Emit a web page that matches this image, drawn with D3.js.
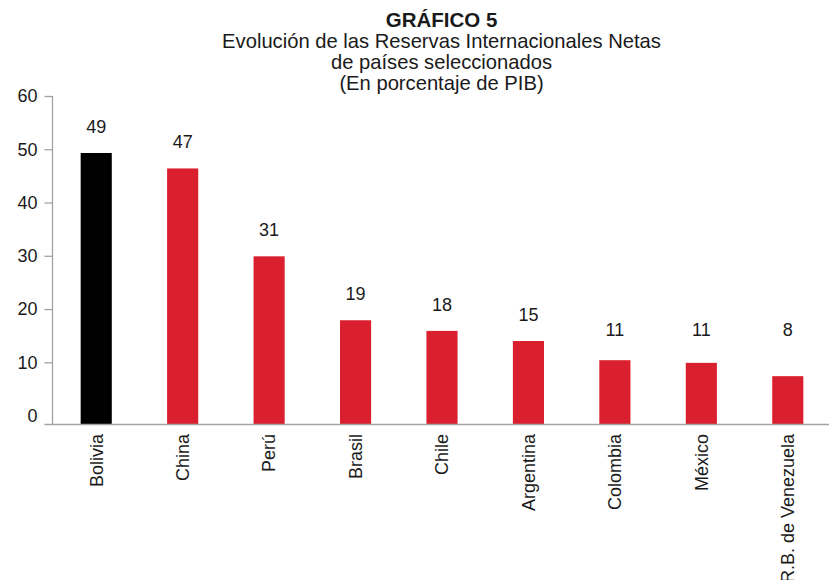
<!DOCTYPE html>
<html>

<head>
  <title>Grafico 5</title>
  <meta charset="utf-8">
  <script src="https://d3js.org/d3.v7.min.js"></script>
  <style>
    body { margin: 0; background: #fff; }
    text { font-family: "Liberation Sans", Arial, Helvetica, sans-serif; fill: #1a1a1a; }
  </style>
</head>

<body>
  <div id="vis"></div>

<script>
  // data
  var paises = ['Bolivia', 'China', 'Perú', 'Brasil', 'Chile', 'Argentina', 'Colombia', 'México', 'R.B. de Venezuela'];
  var valores = [49.3, 46.4, 29.9, 17.9, 15.9, 14.0, 10.4, 9.9, 7.4];
  var etiquetas = ['49', '47', '31', '19', '18', '15', '11', '11', '8'];
  var yTicks = [0, 10, 20, 30, 40, 50, 60];
  var titulo = 'GRÁFICO 5';
  var subtitulo = ['Evolución de las Reservas Internacionales Netas', 'de países seleccionados', '(En porcentaje de PIB)'];

  var width = 829, height = 580;
  var axisX = 52.5, baseY = 424, topY = 96;

  var svg = d3.select('#vis')
    .append('svg')
    .attr('width', width)
    .attr('height', height)

  var x = d3.scaleBand()
    .domain(paises)
    .range([53, 831])
    .paddingInner(0.64)
    .paddingOuter(0.32);

  // axis runs a little below zero, bars sit on the bottom line
  var y = d3.scaleLinear()
    .domain([-1.58, 60])
    .range([baseY, topY]);

  // title
  svg.append('text')
    .attr('x', 441.5)
    .attr('y', 27)
    .attr('text-anchor', 'middle')
    .style('font-size', '20.5px')
    .style('font-weight', 'bold')
    .text(titulo);

  svg.selectAll('.sub')
    .data(subtitulo)
    .enter()
    .append('text')
    .attr('class', 'sub')
    .attr('x', 441.5)
    .attr('y', (d, i) => 48 + i * 21)
    .attr('text-anchor', 'middle')
    .style('font-size', '20.2px')
    .text(d => d);

  // y axis
  var yAxis = svg.append('g')
    .attr('transform', 'translate(' + axisX + ',0)')
    .call(d3.axisLeft(y).tickValues(yTicks).tickSize(8).tickPadding(7));

  yAxis.select('.domain').attr('stroke', '#a3a3a3').attr('stroke-width', 1.3)
    .attr('d', 'M0,' + topY + 'V' + baseY);
  yAxis.selectAll('.tick line')
    .attr('stroke', '#a3a3a3').attr('stroke-width', 1.3)
    .attr('display', d => d === 0 ? 'none' : null);
  yAxis.selectAll('.tick text')
    .style('font-size', '18px')
    .style('font-family', '"Liberation Sans", Arial, sans-serif')
    .attr('fill', '#1a1a1a');

  // bars
  svg.selectAll('.bar')
    .data(paises)
    .enter()
    .append('rect')
    .attr('class', 'bar')
    .attr('x', d => x(d))
    .attr('width', x.bandwidth())
    .attr('y', (d, i) => y(valores[i]))
    .attr('height', (d, i) => baseY - y(valores[i]))
    .attr('fill', (d, i) => i === 0 ? '#000000' : '#da202f');

  // baseline
  svg.append('line')
    .attr('x1', axisX - 8)
    .attr('x2', width)
    .attr('y1', baseY + 0.5)
    .attr('y2', baseY + 0.5)
    .attr('stroke', '#a3a3a3')
    .attr('stroke-width', 1.4);

  // value labels
  svg.selectAll('.lbl')
    .data(paises)
    .enter()
    .append('text')
    .attr('class', 'lbl')
    .attr('x', d => x(d) + x.bandwidth() / 2)
    .attr('y', (d, i) => Math.min(y(valores[i]) - 20, baseY - 88))
    .attr('text-anchor', 'middle')
    .style('font-size', '18px')
    .text((d, i) => etiquetas[i]);

  // category labels
  svg.selectAll('.cat')
    .data(paises)
    .enter()
    .append('text')
    .attr('class', 'cat')
    .attr('transform', d => 'translate(' + (x(d) + x.bandwidth() / 2) + ',' + (baseY + 10) + ') rotate(-90)')
    .attr('text-anchor', 'end')
    .attr('dy', '0.35em')
    .style('font-size', '18px')
    .text(d => d);
</script>
</body>

</html>
